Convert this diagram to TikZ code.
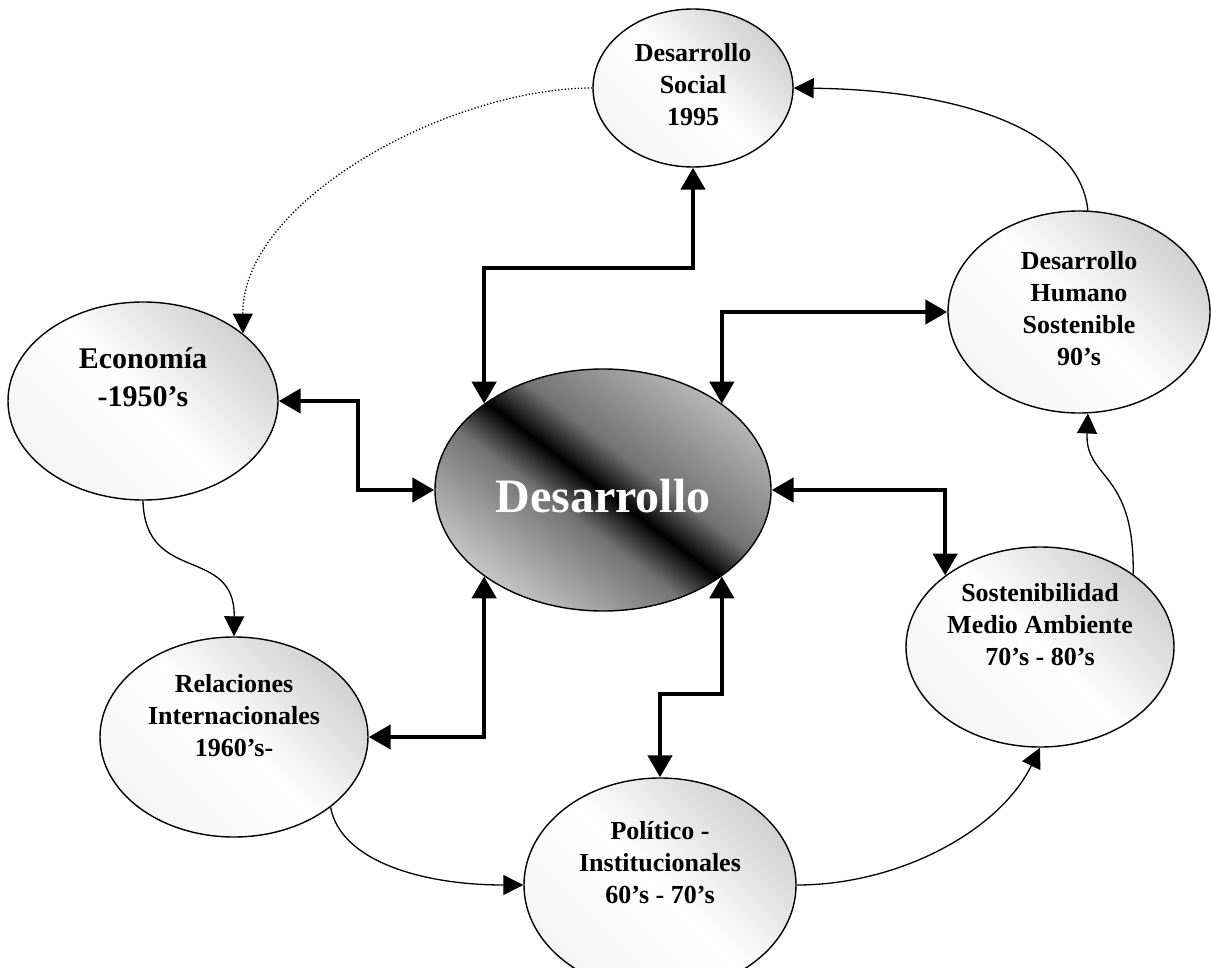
\documentclass[tikz,border=0pt]{standalone}
\usepackage{fontspec}
\setmainfont{Liberation Serif}
\usetikzlibrary{shapes.geometric, arrows.meta}
\pgfdeclareverticalshading{corestripe}{100bp}{color(0bp)=(black!22); color(25bp)=(black!22); color(43bp)=(black!55); color(50bp)=(black); color(57bp)=(black!55); color(75bp)=(black!28); color(100bp)=(black!28)}

\begin{document}
\begin{tikzpicture}[
    x=1pt, y=-1pt,
    era/.style={ellipse, draw, line width=1.4pt, inner sep=0pt, top color=black!18, bottom color=black!4, middle color=white, shading angle=-45},
    core/.style={ellipse, draw, line width=1.4pt, inner sep=0pt, minimum width=336pt, minimum height=242pt, shade, shading=corestripe, shading angle=-37},
    lbl/.style={font=\bfseries\fontsize{26}{32}\selectfont, align=center},
    link/.style={line width=4.5pt, arrows={Triangle[length=22pt,width=24pt]-Triangle[length=22pt,width=24pt]}},
    flow/.style={line width=1.3pt, arrows={-Triangle[length=20pt,width=20pt]}},
    hint/.style={flow, dash pattern=on 1.3pt off 2pt}
]
    \useasboundingbox (0,0) rectangle (1212,968);

    % Eras
    \node[era, minimum width=200pt, minimum height=158pt] (ds) at (693,88) {};
    \node[era, minimum width=262pt, minimum height=202pt] (dhs) at (1079,312) {};
    \node[era, minimum width=270pt, minimum height=198pt] (ec) at (143,401) {};
    \node[era, minimum width=268pt, minimum height=200pt] (sma) at (1040,647) {};
    \node[era, minimum width=268pt, minimum height=200pt] (ri) at (234,737) {};
    \node[era, minimum width=272pt, minimum height=214pt] (pi) at (660,885) {};

    % Core
    \node[core] (de) at (603,490) {};

    % Labels
    \node[lbl] (ds-txt) at ([yshift=3pt]ds) {Desarrollo\\Social\\1995};
    \node[lbl] (dhs-txt) at ([yshift=3pt]dhs) {Desarrollo\\Humano\\Sostenible\\90’s};
    \node[lbl, font=\bfseries\fontsize{30}{38}\selectfont] (ec-txt) at ([yshift=24pt]ec) {Economía\\-1950’s};
    \node[lbl] (sma-txt) at ([yshift=22pt]sma) {Sostenibilidad\\Medio Ambiente\\70’s - 80’s};
    \node[lbl] (ri-txt) at ([yshift=21pt]ri) {Relaciones\\Internacionales\\1960’s-};
    \node[lbl] (pi-txt) at ([yshift=22pt]pi) {Político -\\Institucionales\\60’s - 70’s};
    \node[lbl, text=white, font=\bfseries\fontsize{48}{56}\selectfont] (de-txt) at ([yshift=-6pt]de) {Desarrollo};

    % Core links
    \coordinate (dsbend) at (693,268);
    \coordinate (ecbend) at (358,445);
    \coordinate (pibend) at (660,694);
    \draw[link] (de.144) |- (dsbend) -- (ds.south);
    \draw[link] (de.36) |- (dhs.west);
    \draw[link] (ec.east) -| (ecbend) |- (de.west);
    \draw[link] (de.east) -| (sma.143);
    \draw[link] (de.216) |- (ri.east);
    \draw[link] (de.-36) |- (pibend) -- (pi.north);

    % Sequence
    \draw[flow] (ec.south) .. controls (145,585) and (235,545) .. (ri.north);
    \draw[flow] (ri.-36) .. controls (340,860) and (420,885) .. (pi.west);
    \draw[flow] (pi.east) .. controls (900,885) and (1000,830) .. (sma.south);
    \draw[flow] (sma.38) .. controls (1135,470) and (1085,480) .. (dhs.-85);
    \draw[flow] (dhs.85) .. controls (1080,130) and (960,90) .. (ds.east);
    \draw[hint] (ds.west) .. controls (450,88) and (242,200) .. (ec.34);
\end{tikzpicture}
\end{document}
